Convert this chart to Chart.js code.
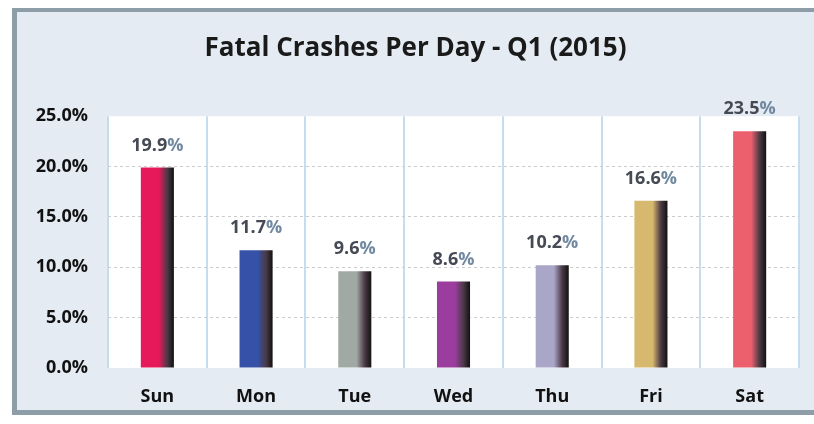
<!DOCTYPE html>
<html>
<head>
<meta charset="utf-8">
<script src="https://cdn.jsdelivr.net/npm/chart.js@4.4.0/dist/chart.umd.min.js"></script>
<style>
  html, body { margin: 0; padding: 0; background: #ffffff; overflow: hidden; }
  #frame {
    position: absolute; left: 12px; top: 8px;
    width: 797px; height: 398px;
    border-left: 5px solid #8e9ea9;
    border-top: 4px solid #8e9ea9;
    border-bottom: 5px solid #8e9ea9;
    background: #e5ebf2;
  }
  #frame canvas { display: block; }
</style>
</head>
<body>
<div id="frame"><canvas id="crashChart" width="797" height="398"></canvas></div>
<script>
const days = ['Sun', 'Mon', 'Tue', 'Wed', 'Thu', 'Fri', 'Sat'];
const crashShare = [19.9, 11.7, 9.6, 8.6, 10.2, 16.6, 23.5];
const barColors = ['#e6195b', '#3651a8', '#a1a9a5', '#9b3c9f', '#aaa6c8', '#d7b86f', '#ec5f6d'];
const yTicks = [0, 5, 10, 15, 20, 25];

const FONT = '"Open Sans", Lato, sans-serif';
const BAR_PCT = 0.335;

// white plot area behind the bars
const plotBackground = {
    id: 'plotBackground',
    beforeDraw(chart) {
        const { ctx, chartArea } = chart;
        ctx.save();
        ctx.fillStyle = '#ffffff';
        ctx.fillRect(chartArea.left, chartArea.top, chartArea.right - chartArea.left, chartArea.bottom - chartArea.top);
        ctx.restore();
    }
};

// value labels above each bar, "%" a bit lighter like the original
const valueLabels = {
    id: 'valueLabels',
    afterDatasetsDraw(chart) {
        const { ctx } = chart;
        const meta = chart.getDatasetMeta(0);
        ctx.save();
        ctx.font = 'bold 18px ' + FONT;
        ctx.textBaseline = 'middle';
        meta.data.forEach((bar, i) => {
            const num = crashShare[i].toFixed(1);
            const wNum = ctx.measureText(num).width;
            const wPct = ctx.measureText('%').width;
            const x0 = bar.x - (wNum + wPct) / 2;
            const y = bar.y - 22;
            ctx.textAlign = 'left';
            ctx.fillStyle = '#454a55';
            ctx.fillText(num, x0, y);
            ctx.fillStyle = '#7189a0';
            ctx.fillText('%', x0 + wNum, y);
        });
        ctx.restore();
    }
};

function barGradient(context) {
    const chart = context.chart;
    const base = barColors[context.dataIndex];
    const xScale = chart.scales.x;
    if (!chart.chartArea || !xScale) return base;
    const cx = xScale.getPixelForValue(context.dataIndex);
    const w = (xScale.width / days.length) * BAR_PCT;
    const g = chart.ctx.createLinearGradient(cx - w / 2, 0, cx + w / 2, 0);
    g.addColorStop(0, base);
    g.addColorStop(0.55, base);
    g.addColorStop(0.8, '#4a3a45');
    g.addColorStop(1, '#111111');
    return g;
}

const ctx = document.getElementById('crashChart').getContext('2d');
const crashChart = new Chart(ctx, {
    type: 'bar',
    data: {
        labels: days,
        datasets: [{
            label: 'Fatal Crashes',
            data: crashShare,
            backgroundColor: barGradient,
            borderWidth: 0,
            categoryPercentage: 1,
            barPercentage: BAR_PCT
        }]
    },
    options: {
        responsive: false,
        animation: false,
        layout: { padding: { left: 15, right: 15, top: 0, bottom: 0 } },
        plugins: {
            legend: { display: false },
            tooltip: { enabled: false },
            title: {
                display: true,
                text: 'Fatal Crashes Per Day - Q1 (2015)',
                color: '#1a1a1a',
                font: { family: FONT, size: 26, weight: 'bold' },
                padding: { top: 21, bottom: 52 }
            }
        },
        scales: {
            x: {
                grid: { color: '#c6ddef', lineWidth: 2, drawTicks: false, offset: true },
                border: { display: false },
                ticks: { color: '#111111', padding: 18, font: { family: FONT, size: 18, weight: 'bold' } },
                afterFit(scale) { scale.height = 42; }
            },
            y: {
                min: 0,
                max: 25,
                afterBuildTicks(scale) { scale.ticks = yTicks.map(v => ({ value: v })); },
                grid: {
                    color: c => (c.tick && (c.tick.value === 0 || c.tick.value === 25)) ? 'rgba(0,0,0,0)' : '#cccccc',
                    lineWidth: 1,
                    drawTicks: false
                },
                border: { display: false, dash: [3, 3] },
                ticks: {
                    color: '#111111',
                    padding: 20,
                    font: { family: FONT, size: 18, weight: 'bold' },
                    callback: v => Number(v).toFixed(1) + '%'
                },
                afterFit(scale) { scale.width = 76; }
            }
        }
    },
    plugins: [plotBackground, valueLabels]
});
</script>
</body>
</html>
